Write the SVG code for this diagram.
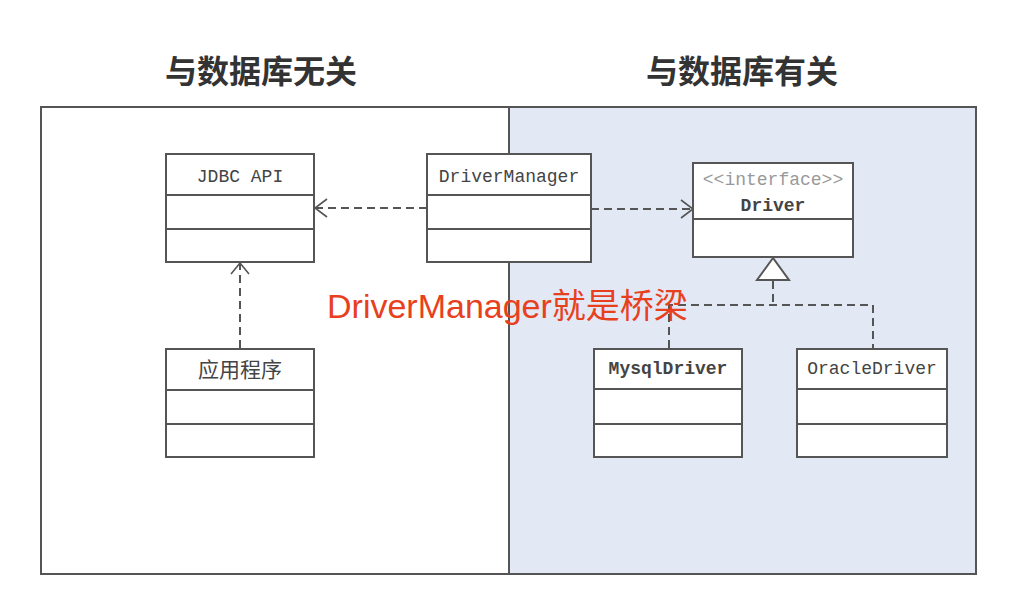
<svg xmlns="http://www.w3.org/2000/svg" width="1012" height="614" viewBox="0 0 1012 614">
<defs>
<style>
.box{fill:#fff;stroke:#555;stroke-width:2}
.sep{stroke:#555;stroke-width:2}
.dash{fill:none;stroke:#555;stroke-width:2;stroke-dasharray:8 5}
.head{fill:none;stroke:#555;stroke-width:1.6}
.lbl{font-family:"Liberation Mono","DejaVu Sans Mono",monospace;font-size:18px;fill:#444;text-anchor:middle}
.cjk{font-family:"Noto Sans CJK SC",sans-serif;fill:#444;text-anchor:middle}
.title{font-family:"Noto Sans CJK SC",sans-serif;font-size:32px;font-weight:bold;fill:#333;text-anchor:middle}
</style>
</defs>
<rect width="1012" height="614" fill="#fff"/>
<g id="frame">
<rect x="509" y="107" width="467" height="467" fill="#e2e8f4"/>
<rect x="41" y="107" width="935" height="467" fill="none" stroke="#555" stroke-width="2"/>
<line x1="509" y1="107" x2="509" y2="574" stroke="#555" stroke-width="2"/>
</g>
<g id="titles">
<text class="title" x="261" y="83">与数据库无关</text>
<text class="title" x="742" y="83">与数据库有关</text>
</g>
<g id="connectors">
<line class="dash" x1="427" y1="208" x2="316" y2="208"/>
<polyline class="head" points="327,199 315,208 327,217"/>
<line class="dash" x1="591" y1="209" x2="691" y2="209"/>
<polyline class="head" points="681,200 693,209 681,218"/>
<line class="dash" x1="240" y1="348" x2="240" y2="264"/>
<polyline class="head" points="231,274 240,263 249,274"/>
<line class="dash" x1="773" y1="281" x2="773" y2="305"/>
<polyline class="dash" points="669,348 669,305 873,305 873,348"/>
<polygon points="773,258 757,280 789,280" fill="#fff" stroke="#555" stroke-width="2"/>
</g>
<g id="jdbc-api">
<rect class="box" x="166" y="154" width="148" height="108"/>
<line class="sep" x1="166" y1="195" x2="314" y2="195"/>
<line class="sep" x1="166" y1="229" x2="314" y2="229"/>
<text class="lbl" x="240" y="182">JDBC API</text>
</g>
<g id="driver-manager">
<rect class="box" x="427" y="154" width="164" height="108"/>
<line class="sep" x1="427" y1="195" x2="591" y2="195"/>
<line class="sep" x1="427" y1="229" x2="591" y2="229"/>
<text class="lbl" x="509" y="182">DriverManager</text>
</g>
<g id="driver">
<rect class="box" x="693" y="163" width="160" height="94"/>
<line class="sep" x1="693" y1="219" x2="853" y2="219"/>
<text class="lbl" x="773" y="185" style="fill:#999">&lt;&lt;interface&gt;&gt;</text>
<text class="lbl" x="773" y="211" font-weight="bold">Driver</text>
</g>
<g id="app">
<rect class="box" x="166" y="349" width="148" height="108"/>
<line class="sep" x1="166" y1="390" x2="314" y2="390"/>
<line class="sep" x1="166" y1="424" x2="314" y2="424"/>
<text class="cjk" x="240" y="377" font-size="21">应用程序</text>
</g>
<g id="mysql-driver">
<rect class="box" x="594" y="349" width="148" height="108"/>
<line class="sep" x1="594" y1="389" x2="742" y2="389"/>
<line class="sep" x1="594" y1="424" x2="742" y2="424"/>
<text class="lbl" x="668" y="374" font-weight="bold">MysqlDriver</text>
</g>
<g id="oracle-driver">
<rect class="box" x="797" y="349" width="150" height="108"/>
<line class="sep" x1="797" y1="389" x2="947" y2="389"/>
<line class="sep" x1="797" y1="424" x2="947" y2="424"/>
<text class="lbl" x="872" y="374">OracleDriver</text>
</g>
<g id="note">
<text x="327" y="318" font-family="'Liberation Sans','Noto Sans CJK SC',sans-serif" font-size="34" fill="#e8401c">DriverManager就是桥梁</text>
</g>
</svg>
